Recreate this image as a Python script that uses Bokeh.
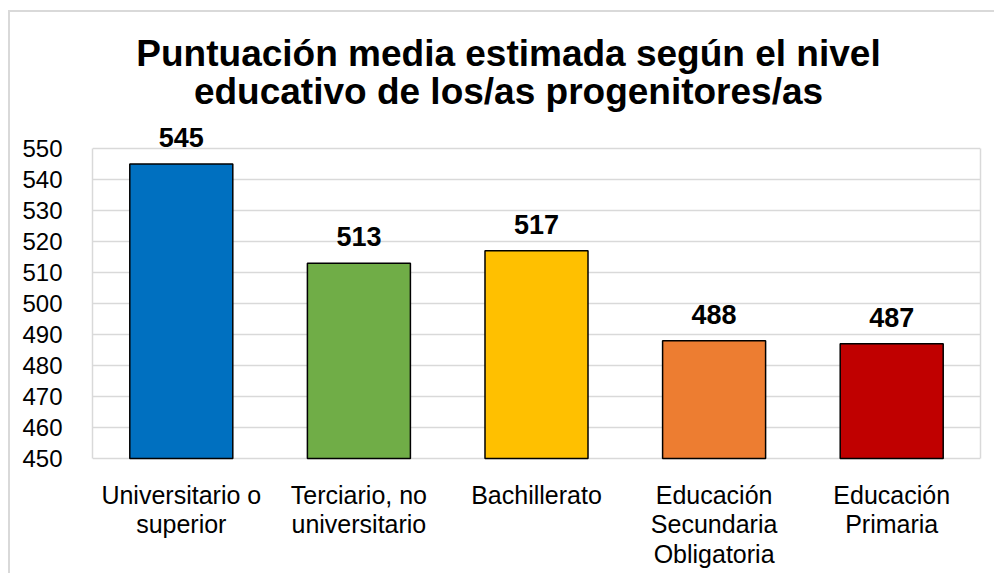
from bokeh.plotting import figure
from bokeh.models import ColumnDataSource, LabelSet, Label, FactorRange, LinearAxis, FixedTicker
from bokeh.core.properties import value
from bokeh.embed import file_html
from bokeh.resources import INLINE

categories = ["Universitario o superior", "Terciario, no universitario", "Bachillerato",
              "Educación Secundaria Obligatoria", "Educación Primaria"]
tick_labels = ["Universitario o\nsuperior", "Terciario, no\nuniversitario", "Bachillerato",
               "Educación\nSecundaria\nObligatoria", "Educación\nPrimaria"]
values = [545, 513, 517, 488, 487]
colors = ["#0070C0", "#70AD47", "#FFC000", "#ED7D31", "#C00000"]
title_lines = ["Puntuación media estimada según el nivel",
               "educativo de los/as progenitores/as"]
y_ticks = list(range(450, 551, 10))
y_min, y_max = 450, 550

FONT = "Liberation Sans"
GRID = "#d9d9d9"

# layout in pixels (canvas)
CANVAS_W, CANVAS_H = 986, 563
FRAME_LEFT, FRAME_RIGHT = 82, 970
PX_TOP, PX_BOTTOM = 136, 446          # canvas y of y_max and y_min
ppu = (PX_BOTTOM - PX_TOP) / (y_max - y_min)
range_end = y_max + PX_TOP / ppu
range_start = y_min - (CANVAS_H - PX_BOTTOM) / ppu

source = ColumnDataSource(dict(cat=categories, val=values, col=colors,
                               txt=[str(v) for v in values]))

p = figure(x_range=FactorRange(*categories, range_padding=0),
           y_range=(range_start, range_end),
           width=CANVAS_W, height=CANVAS_H, output_backend="svg", toolbar_location=None,
           min_border_left=FRAME_LEFT, min_border_right=CANVAS_W - FRAME_RIGHT,
           min_border_top=0, min_border_bottom=0)
p.styles = {"margin-left": "8px", "margin-top": "10px",
            "border-top": "2px solid #d9d9d9", "border-left": "2px solid #d9d9d9"}

p.vbar(x="cat", top="val", bottom=y_min, width=0.58, source=source,
       fill_color="col", line_color="#000000", line_width=1.5)

p.add_layout(LabelSet(x="cat", y="val", text="txt", source=source, y_offset=17,
                      text_align="center", text_baseline="bottom",
                      text_font=value(FONT), text_font_style="bold", text_font_size="27px",
                      text_color="#000000"))

# x category labels (multi-line), below the bars
lx, ly, lt = [], [], []
line_y = [72, 43, 13]
for cat, lab in zip(categories, tick_labels):
    for j, part in enumerate(lab.split("\n")):
        lx.append(cat)
        ly.append(line_y[j])
        lt.append(part)
xsrc = ColumnDataSource(dict(x=lx, y=ly, t=lt))
p.add_layout(LabelSet(x="x", y="y", text="t", source=xsrc, y_units="screen",
                      text_align="center", text_baseline="alphabetic",
                      text_font=value(FONT), text_font_size="25px", text_color="#000000"))

# title
for line, yy in zip(title_lines, [CANVAS_H - 41, CANVAS_H - 79]):
    p.add_layout(Label(x=416, y=yy, x_units="screen", y_units="screen", text=line,
                       text_align="center", text_baseline="alphabetic",
                       text_font=FONT, text_font_style="bold", text_font_size="37px",
                       text_color="#000000"))

p.outline_line_color = None
p.xgrid.grid_line_color = None
p.ygrid.grid_line_color = GRID
p.ygrid.grid_line_width = 1.5
p.xaxis.visible = False

p.yaxis.ticker = y_ticks
p.yaxis.bounds = (y_min, y_max)
p.yaxis.axis_line_color = GRID
p.yaxis.axis_line_width = 1.5
p.yaxis.major_tick_line_color = None
p.yaxis.minor_tick_line_color = None
p.yaxis.major_label_text_font = FONT
p.yaxis.major_label_text_font_size = "24px"
p.yaxis.major_label_text_color = "#000000"
p.yaxis.major_label_standoff = 24

right = LinearAxis(ticker=FixedTicker(ticks=[]), bounds=(y_min, y_max),
                   axis_line_color=GRID, axis_line_width=1.5,
                   major_tick_line_color=None, minor_tick_line_color=None)
p.add_layout(right, "right")

open("out.html", "w").write(file_html(p, INLINE))
